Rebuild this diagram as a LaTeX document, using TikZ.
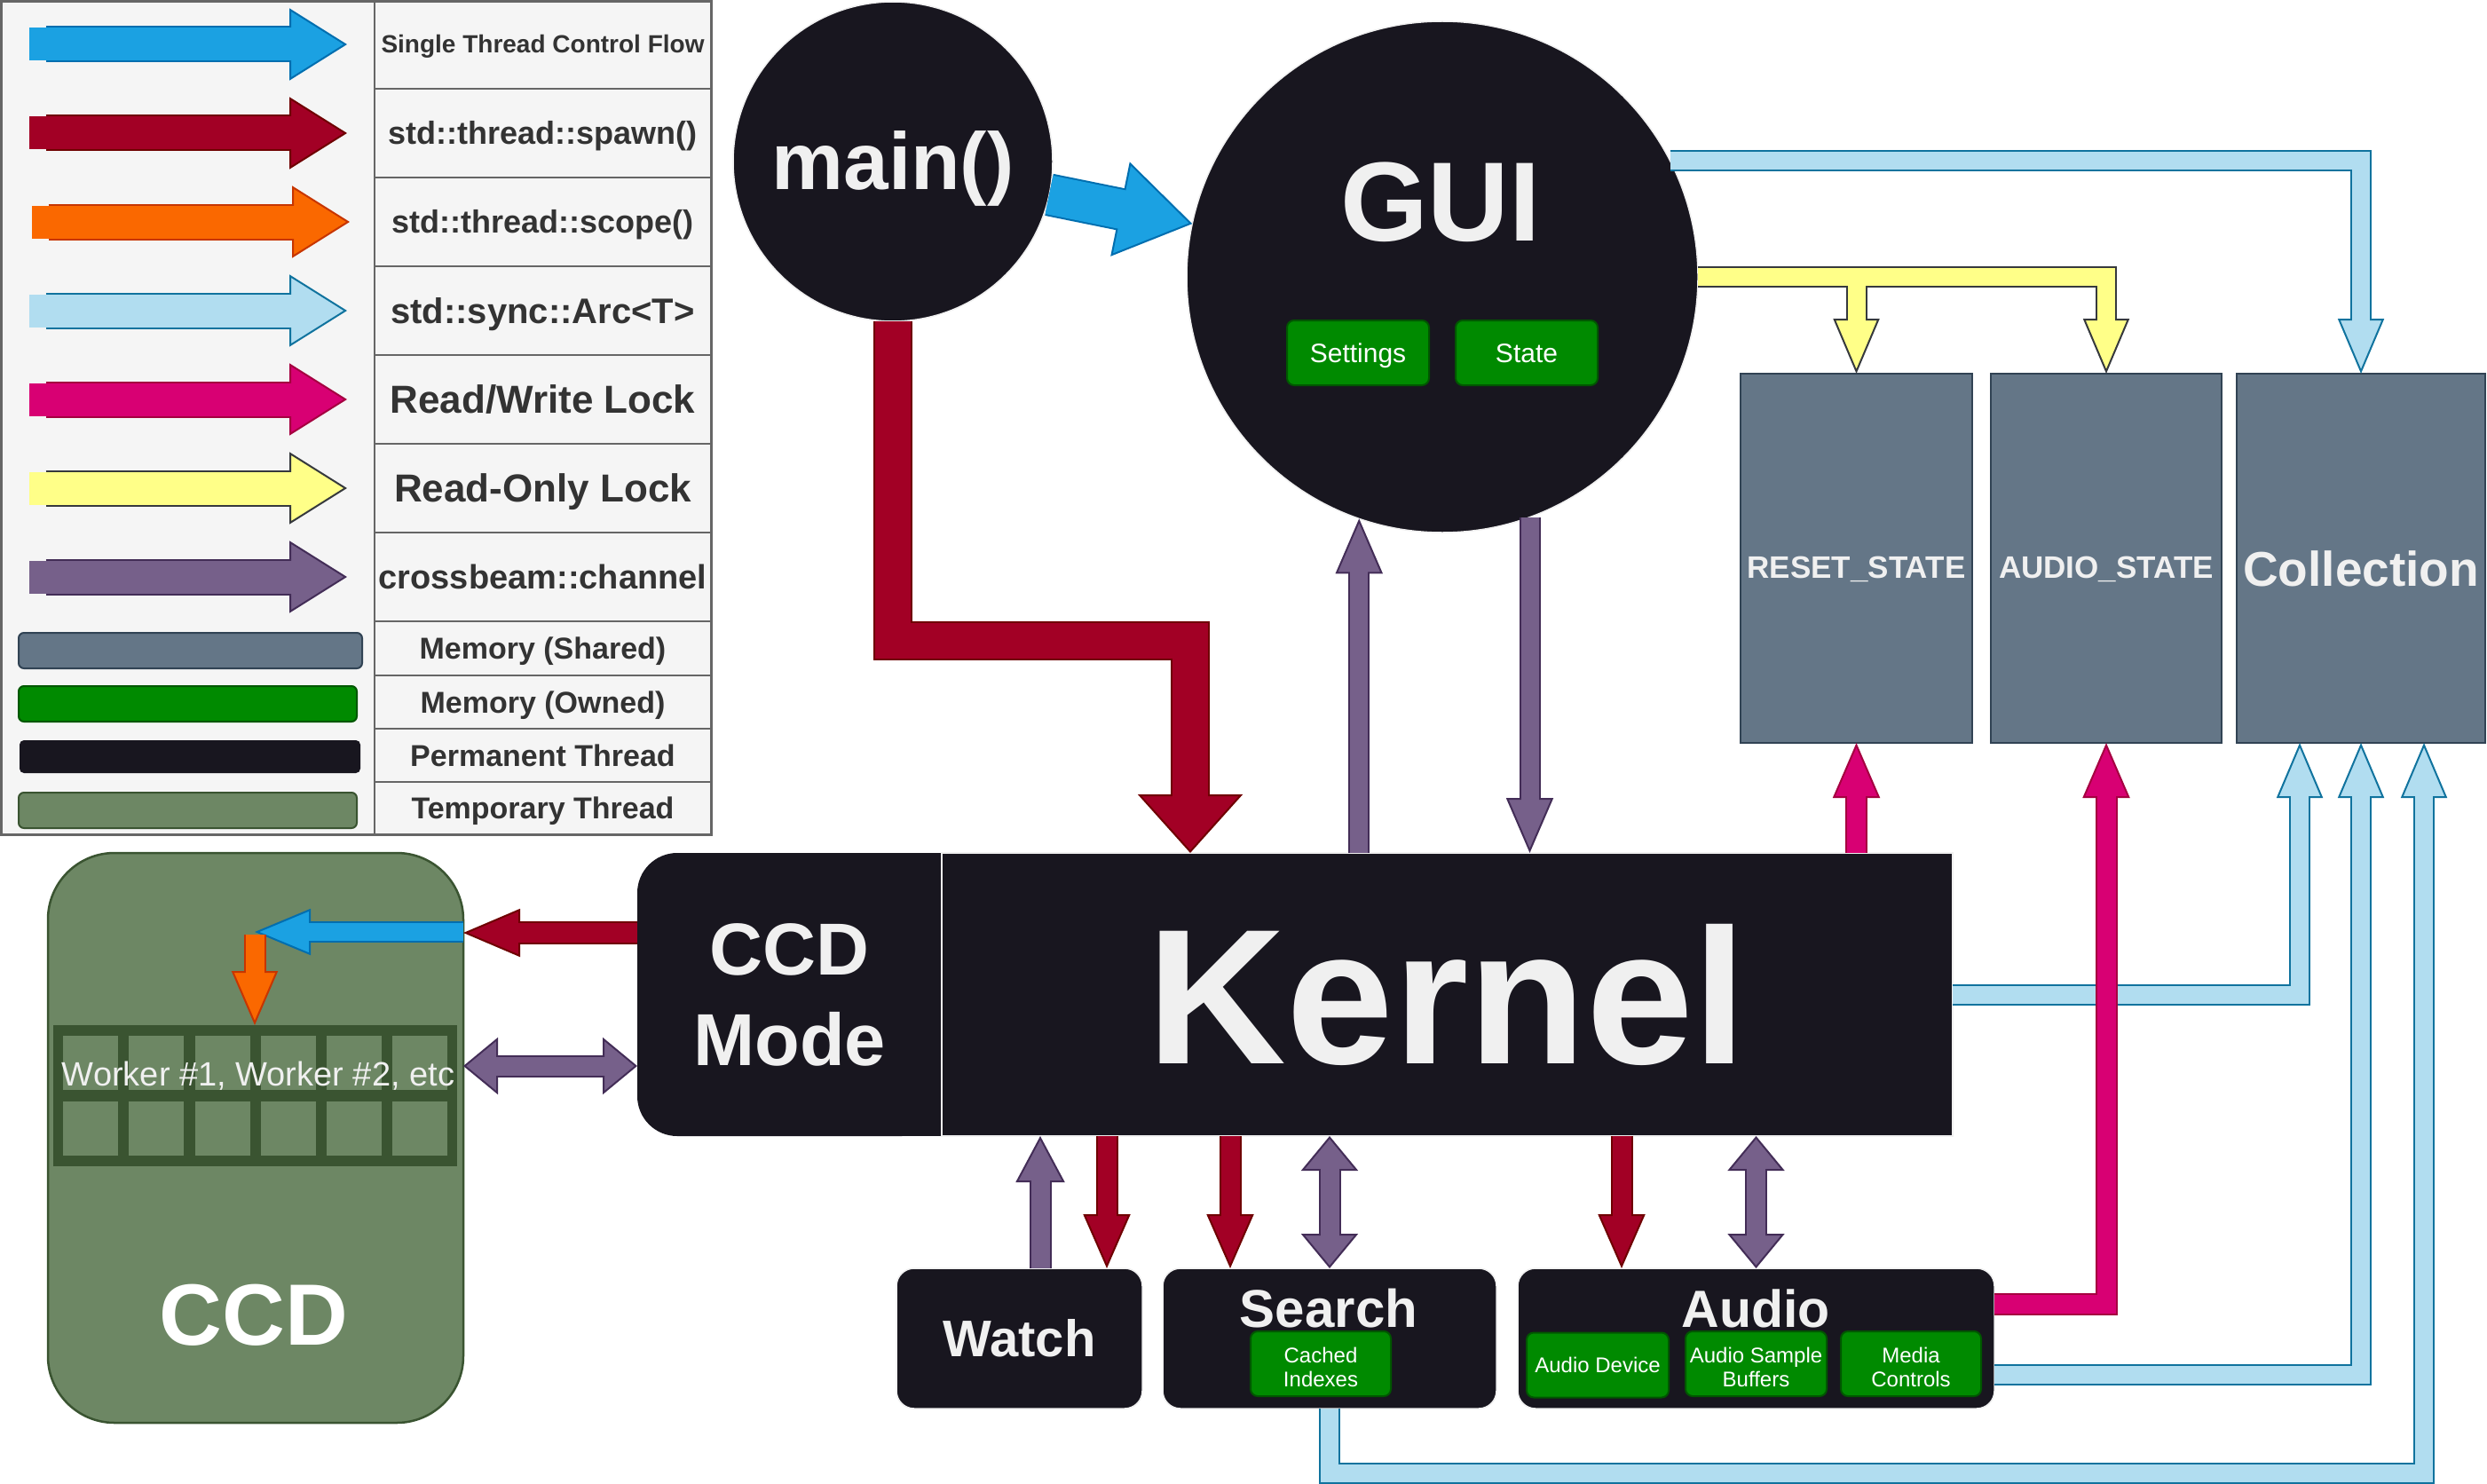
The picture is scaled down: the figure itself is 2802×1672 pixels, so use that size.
\documentclass[tikz,border=0pt]{standalone}
\usepackage{fontspec}
\setmainfont{Liberation Sans}
\usetikzlibrary{arrows.meta,calc}
\definecolor{cBlue}{HTML}{1BA1E2}\definecolor{cBlueL}{HTML}{006EAF}
\definecolor{cRed}{HTML}{A20025}\definecolor{cRedL}{HTML}{6F0000}
\definecolor{cOr}{HTML}{FA6800}\definecolor{cOrL}{HTML}{C73500}
\definecolor{cLb}{HTML}{B1DDF0}\definecolor{cLbL}{HTML}{10739E}
\definecolor{cPk}{HTML}{D80073}\definecolor{cPkL}{HTML}{A50040}
\definecolor{cYe}{HTML}{FFFF88}\definecolor{cYeL}{HTML}{36393D}
\definecolor{cPu}{HTML}{76608A}\definecolor{cPuL}{HTML}{432D57}
\definecolor{cMem}{HTML}{647687}\definecolor{cMemL}{HTML}{314354}
\definecolor{cOwn}{HTML}{008A00}\definecolor{cOwnL}{HTML}{005700}
\definecolor{cPerm}{HTML}{18161F}
\definecolor{cTmp}{HTML}{6D8764}\definecolor{cTmpL}{HTML}{3A5431}
\definecolor{cLeg}{HTML}{F5F5F5}\definecolor{cLegL}{HTML}{666666}
\definecolor{cTxt}{HTML}{333333}\definecolor{cWt}{HTML}{F0F0F0}
\newcommand{\fsz}[2]{\fontsize{#1}{#2}\selectfont}
\tikzset{
  every node/.style={inner sep=0pt, outer sep=0pt},
  perm/.style={fill=cPerm, draw=cWt, line width=1.5pt},
  own/.style={rectangle, fill=cOwn, draw=cOwnL, line width=2pt, rounded corners=8pt, text=white, align=center},
  capc/.style={text height=#1, text depth=0pt},
  mem/.style={rectangle, fill=cMem, draw=cMemL, line width=2.5pt, minimum height=416pt},
  wt/.style={text=cWt},
  legtxt/.style={text=cTxt},
  fa/.style n args={5}{draw=#1, line width=#3, line join=miter, shorten >=#5-3pt,
    preaction={draw=#2, line width=#3+4pt, shorten >=0pt, shorten <=0pt,
      -{Triangle[length=#5, width=#4, fill=#1, color=#2, line width=2pt]}}},
  fab/.style n args={5}{draw=#1, line width=#3, line join=miter, shorten >=#5-3pt, shorten <=#5-3pt,
    preaction={draw=#2, line width=#3+4pt, shorten >=0pt, shorten <=0pt,
      {Triangle[length=#5, width=#4, fill=#1, color=#2, line width=2pt]}-{Triangle[length=#5, width=#4, fill=#1, color=#2, line width=2pt]}}},
}
\begin{document}
\begin{tikzpicture}[x=1pt, y=-1pt]
\useasboundingbox (0,0) rectangle (2802,1672);

% ---------------- legend ----------------
\node[rectangle, fill=cLeg, draw=cLegL, line width=3pt, minimum width=799.5pt, minimum height=938.5pt, anchor=north west] (legend) at (1.5,1.5) {};
\draw[cLegL, line width=2pt] (422,1.5) -- (422,940);
\foreach \yy in {100,200,300,400,500,600,700,761,821,881}
  \draw[cLegL, line width=2pt] (422,\yy) -- (801,\yy);
\draw[fa={cBlue}{cBlueL}{37pt}{81pt}{65pt}, line cap=rect] (51.5,50) -- (391,50);
\draw[fa={cRed}{cRedL}{37pt}{81pt}{65pt}, line cap=rect] (51.5,150) -- (391,150);
\draw[fa={cOr}{cOrL}{37pt}{81pt}{65pt}, line cap=rect] (54.5,250) -- (394,250);
\draw[fa={cLb}{cLbL}{37pt}{81pt}{65pt}, line cap=rect] (51.5,350) -- (391,350);
\draw[fa={cPk}{cPkL}{37pt}{81pt}{65pt}, line cap=rect] (51.5,450) -- (391,450);
\draw[fa={cYe}{cYeL}{37pt}{81pt}{65pt}, line cap=rect] (51.5,550) -- (391,550);
\draw[fa={cPu}{cPuL}{37pt}{81pt}{65pt}, line cap=rect] (51.5,650) -- (391,650);
\draw[fill=cMem, draw=cMemL, line width=2pt, rounded corners=6pt] (21,713) rectangle (408,753);
\draw[fill=cOwn, draw=cOwnL, line width=2pt, rounded corners=6pt] (21,773) rectangle (402,813);
\fill[cPerm, rounded corners=5pt] (22,834) rectangle (406,871);
\draw[fill=cTmp, draw=cTmpL, line width=2pt, rounded corners=6pt] (21,893) rectangle (402,933);
\node[legtxt, capc=20pt, font=\bfseries\fsz{28}{34}] (l1) at (611.5,50) {Single Thread Control Flow};
\node[legtxt, capc=25.8pt, font=\bfseries\fsz{36}{43}] (l2) at (611.5,150) {std::thread::spawn()};
\node[legtxt, capc=25.8pt, font=\bfseries\fsz{36}{43}] (l3) at (611.5,250) {std::thread::scope()};
\node[legtxt, capc=28.6pt, font=\bfseries\fsz{40}{48}] (l4) at (611.5,350) {std::sync::Arc<T>};
\node[legtxt, capc=31.5pt, font=\bfseries\fsz{44}{52}] (l5) at (611.5,450) {Read/Write Lock};
\node[legtxt, capc=31.5pt, font=\bfseries\fsz{44}{52}] (l6) at (611.5,550) {Read-Only Lock};
\node[legtxt, capc=27.2pt, font=\bfseries\fsz{38}{46}] (l7) at (611.5,650) {crossbeam::channel};
\node[legtxt, capc=24.3pt, font=\bfseries\fsz{34}{40}] (l8) at (611.5,730.5) {Memory (Shared)};
\node[legtxt, capc=24.3pt, font=\bfseries\fsz{34}{40}] (l9) at (611.5,791) {Memory (Owned)};
\node[legtxt, capc=24.3pt, font=\bfseries\fsz{34}{40}] (l10) at (611.5,851) {Permanent Thread};
\node[legtxt, capc=24.3pt, font=\bfseries\fsz{34}{40}] (l11) at (611.5,910.5) {Temporary Thread};

% ---------------- CCD ----------------
\node[rectangle, rounded corners=75pt, fill=cTmp, draw=cTmpL, line width=2.5pt, minimum width=468pt, minimum height=642pt] (ccd) at (288,1282) {};
\node[rectangle, fill=cTmpL, minimum width=455pt, minimum height=159pt] (workers) at (287.5,1234.5) {};
\foreach \xx in {71,145,220,294,368,442}
  \foreach \yy in {1167,1241}
    \fill[cTmp] (\xx,\yy) rectangle ++(62,61);
\node[wt, font=\fsz{38}{46}] (wlbl) at (291,1212) {Worker \#1, Worker \#2, etc};
\node[text=white, font=\bfseries\fsz{98}{110}] (ccdlbl) at (286,1482) {CCD};

% ---------------- main / GUI ----------------
\node[circle, perm, minimum size=360pt] (main) at (1006,182) {};
\node[wt, font=\bfseries\fsz{91}{100}] (mainlbl) at (1006,190) {main()};
\node[circle, perm, minimum size=576pt] (gui) at (1625,312) {};
\node[wt, font=\bfseries\fsz{127}{140}] (guilbl) at (1623,228) {GUI};
\node[own, capc=21.5pt, minimum width=160pt, minimum height=73pt, font=\fsz{30}{36}] (settings) at (1530,397.5) {Settings};
\node[own, capc=21.5pt, minimum width=160pt, minimum height=73pt, font=\fsz{30}{36}] (state) at (1720,397.5) {State};

% ---------------- kernel ----------------
\fill[cPerm] (889.5,961) rectangle (1061,1280);
\node[rectangle, fill=cPerm, rounded corners=45pt, minimum width=343pt, minimum height=319pt, wt, font=\bfseries\fsz{83}{102}, align=center] (ccdmode) at (889.5,1120.5) {CCD\\Mode};
\node[rectangle, perm, minimum width=1139pt, minimum height=319pt, wt, font=\bfseries\fsz{217}{250}] (kernel) at (1630.5,1120.5) {Kernel};

% ---------------- shared memory ----------------
\node[mem, minimum width=261pt, label={[wt, font=\bfseries\fsz{35}{42}, yshift=-12pt]center:RESET\_STATE}] (reset) at (2091.5,629) {};
\node[mem, minimum width=260pt, label={[wt, font=\bfseries\fsz{35}{42}, yshift=-12pt]center:AUDIO\_STATE}] (audiostate) at (2373,629) {};
\node[mem, minimum width=280pt, label={[wt, font=\bfseries\fsz{55}{64}, yshift=-12pt]center:Collection}] (collection) at (2660,629) {};

% ---------------- bottom threads ----------------
\node[rectangle, perm, rounded corners=20pt, minimum width=277pt, minimum height=158pt, wt, font=\bfseries\fsz{58}{70}] (watch) at (1148.5,1508) {Watch};
\node[rectangle, perm, rounded corners=20pt, minimum width=376pt, minimum height=158pt] (search) at (1498,1508) {};
\node[wt, font=\bfseries\fsz{60}{70}] (searchlbl) at (1497,1474) {Search};
\node[rectangle, perm, rounded corners=20pt, minimum width=537pt, minimum height=158pt] (audio) at (1978.5,1508) {};
\node[wt, font=\bfseries\fsz{59}{70}] (audiolbl) at (1978,1474) {Audio};
\node[own, minimum width=158pt, minimum height=73pt, label={[text=white, align=center, font=\fsz{24}{27}, yshift=-4pt]center:Cached\\Indexes}] (cached) at (1488,1536.5) {};
\node[own, capc=17.2pt, minimum width=160pt, minimum height=73pt, font=\fsz{24}{27}] (audiodev) at (1800,1538) {Audio Device};
\node[own, minimum width=159pt, minimum height=73pt, label={[text=white, align=center, font=\fsz{24}{27}, yshift=-4pt]center:Audio Sample\\Buffers}] (asb) at (1978.5,1536.5) {};
\node[own, minimum width=158pt, minimum height=73pt, label={[text=white, align=center, font=\fsz{24}{27}, yshift=-4pt]center:Media\\Controls}] (media) at (2153,1536.5) {};

% ---------------- connectors ----------------
\draw[fa={cBlue}{cBlueL}{44pt}{108pt}{83pt}] (main.-12) -- (gui.168);
\draw[fa={cRed}{cRedL}{40pt}{118pt}{66pt}] (main.south) |- (1341,722) -- (1341,0 |- kernel.north);
\draw[fa={cPu}{cPuL}{20pt}{53pt}{62pt}] (gui.-109 |- kernel.north) -- (gui.-109);
\draw[fa={cPu}{cPuL}{20pt}{53pt}{62pt}] (gui.-70.5) -- (gui.-70.5 |- kernel.north);

\draw[fa={cYe}{cYeL}{20pt}{52pt}{62pt}] (gui.east) -| (audiostate.north);
\coordinate (ybranch) at ($(reset.north |- gui.east)+(0,10)$);
\draw[fa={cYe}{cYeL}{20pt}{52pt}{62pt}] (ybranch) -- (reset.north);

\draw[fa={cLb}{cLbL}{20pt}{52pt}{62pt}] (gui.27) -| (collection.north);
\draw[fa={cLb}{cLbL}{20pt}{52pt}{62pt}] (kernel.east) -| (2591,0 |- collection.south);
\draw[fa={cLb}{cLbL}{20pt}{52pt}{62pt}] (audio.east |- 0,1549) -| (collection.south);
\draw[fa={cLb}{cLbL}{20pt}{52pt}{62pt}] (search.south) |- (2731,1660) -- (2731,0 |- collection.south);

\draw[fa={cPk}{cPkL}{21pt}{53pt}{62pt}] (reset.south |- kernel.north) -- (reset.south);
\draw[fa={cPk}{cPkL}{21pt}{53pt}{62pt}] (audio.east |- 0,1469) -| (audiostate.south);

\draw[fa={cPu}{cPuL}{21pt}{55pt}{52pt}] (1172,0 |- watch.north) -- (1172,0 |- kernel.south);
\draw[fa={cRed}{cRedL}{21pt}{53pt}{61pt}] (1247,0 |- kernel.south) -- (1247,0 |- watch.north);
\draw[fa={cRed}{cRedL}{21pt}{53pt}{61pt}] (1386,0 |- kernel.south) -- (1386,0 |- search.north);
\draw[fab={cPu}{cPuL}{21pt}{64pt}{39pt}] (search.north |- kernel.south) -- (search.north);
\draw[fa={cRed}{cRedL}{21pt}{53pt}{61pt}] (1827,0 |- kernel.south) -- (1827,0 |- audio.north);
\draw[fab={cPu}{cPuL}{21pt}{64pt}{39pt}] (audio.north |- kernel.south) -- (audio.north);

\draw[fa={cRed}{cRedL}{22pt}{54pt}{64pt}] (ccdmode.west |- 0,1051) -- (ccd.east |- 0,1051);
\draw[fab={cPu}{cPuL}{21pt}{64pt}{39pt}] (ccd.east |- 0,1201) -- (ccdmode.west |- 0,1201);
\coordinate (split) at (287,1050);
\draw[fa={cBlue}{cBlueL}{20pt}{52pt}{63pt}] (ccd.east |- split) -- (split);
\draw[fa={cOr}{cOrL}{21pt}{52pt}{61pt}] ($(split)+(0,3)$) -- (split |- workers.north);
\end{tikzpicture}
\end{document}
